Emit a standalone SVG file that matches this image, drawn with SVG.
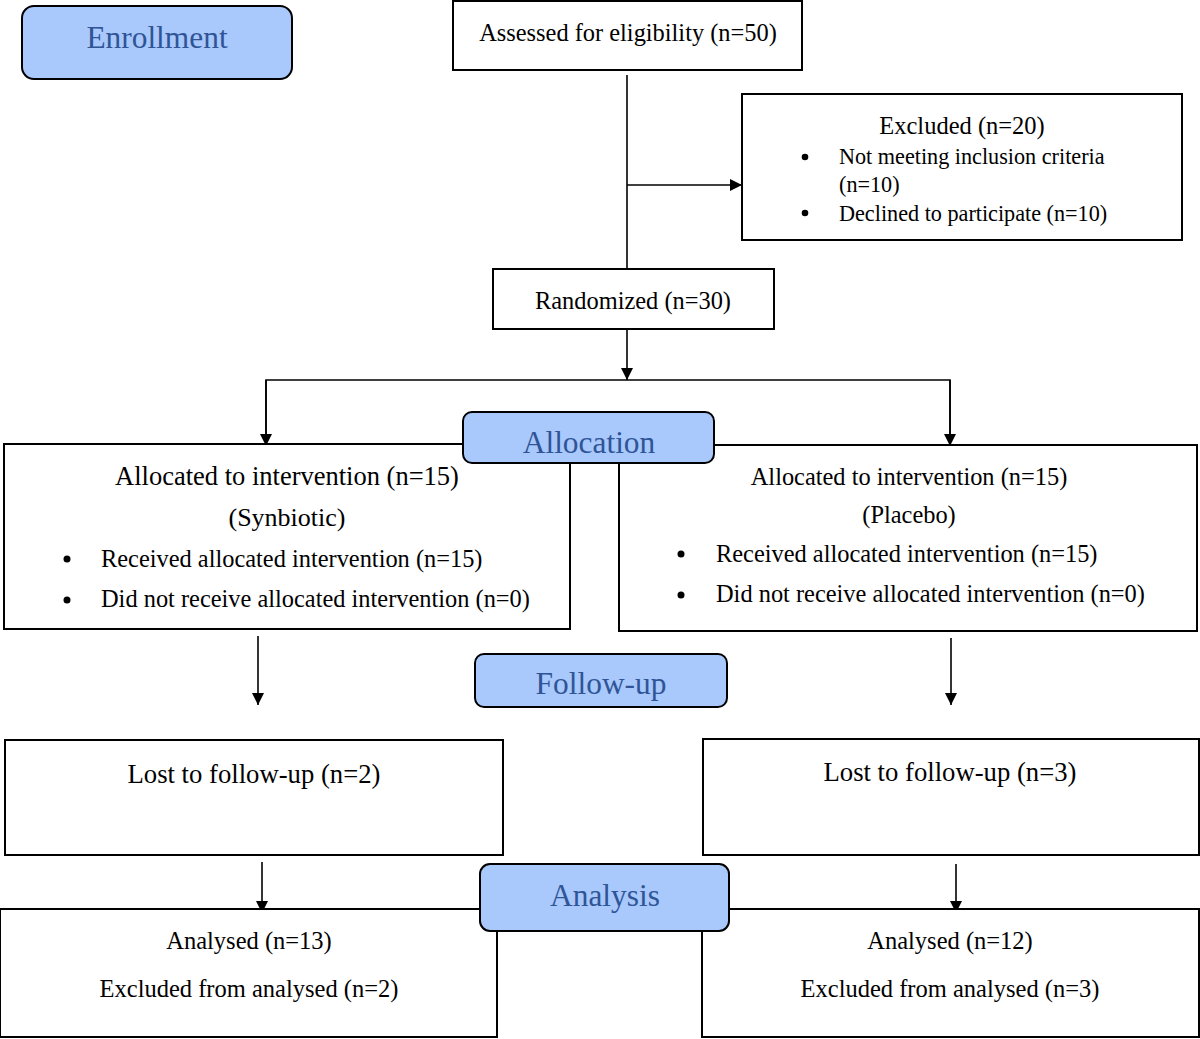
<svg xmlns="http://www.w3.org/2000/svg" width="1200" height="1039" viewBox="0 0 1200 1039">
<style>
.box{fill:#fff;stroke:#000;stroke-width:2}
.lbl{fill:#a9c8fb;stroke:#000;stroke-width:2}
.t{font-family:"Liberation Serif","Times New Roman",serif;fill:#000}
.c{text-anchor:middle}
.lt{font-family:"Liberation Serif","Times New Roman",serif;fill:#2f5597;font-size:31.4px;text-anchor:middle}
.ln{fill:none;stroke:#000;stroke-width:1.6}
</style>
<defs>
<marker id="ah" markerUnits="userSpaceOnUse" markerWidth="14" markerHeight="14" refX="12" refY="6" orient="auto">
<path d="M0,0 L12,6 L0,12 Z" fill="#000"/>
</marker>
</defs>
<rect width="1200" height="1039" fill="#fff"/>
<g id="connectors">
<line class="ln" x1="627" y1="75" x2="627" y2="268"/>
<line class="ln" x1="627" y1="185" x2="742" y2="185" marker-end="url(#ah)"/>
<line class="ln" x1="627" y1="329" x2="627" y2="380" marker-end="url(#ah)"/>
<polyline class="ln" points="266,445 266,380 950,380 950,445"/>
<line class="ln" x1="266" y1="380" x2="266" y2="446" marker-end="url(#ah)"/>
<line class="ln" x1="950" y1="380" x2="950" y2="446" marker-end="url(#ah)"/>
<line class="ln" x1="258" y1="636" x2="258" y2="705" marker-end="url(#ah)"/>
<line class="ln" x1="951" y1="638" x2="951" y2="705" marker-end="url(#ah)"/>
<line class="ln" x1="262" y1="862" x2="262" y2="913" marker-end="url(#ah)"/>
<line class="ln" x1="956" y1="864" x2="956" y2="913" marker-end="url(#ah)"/>
</g>
<g id="assessed">
<rect class="box" x="453" y="1" width="349" height="69"/>
<text class="t c" x="628" y="41" font-size="24.4">Assessed for eligibility (n=50)</text>
</g>
<g id="excluded">
<rect class="box" x="742" y="94" width="440" height="146"/>
<text class="t c" x="962" y="134" font-size="24.5">Excluded (n=20)</text>
<circle cx="805" cy="157" r="3.3"/>
<text class="t" x="839" y="164" font-size="22.2">Not meeting inclusion criteria</text>
<text class="t" x="839" y="192" font-size="22.2">(n=10)</text>
<circle cx="805" cy="213" r="3.3"/>
<text class="t" x="839" y="221" font-size="22.2">Declined to participate (n=10)</text>
</g>
<g id="randomized">
<rect class="box" x="493" y="269" width="281" height="60"/>
<text class="t c" x="633" y="309" font-size="24.4">Randomized (n=30)</text>
</g>
<g id="alloc-left">
<rect class="box" x="4" y="444" width="566" height="185"/>
<text class="t c" x="287" y="485" font-size="26.5">Allocated to intervention (n=15)</text>
<text class="t c" x="287" y="526" font-size="26">(Synbiotic)</text>
<circle cx="67" cy="559" r="3.5"/>
<text class="t" x="101" y="567" font-size="24.4">Received allocated intervention (n=15)</text>
<circle cx="67" cy="600" r="3.5"/>
<text class="t" x="101" y="607" font-size="24.4">Did not receive allocated intervention (n=0)</text>
</g>
<g id="alloc-right">
<rect class="box" x="619" y="445" width="578" height="186"/>
<text class="t c" x="909" y="485" font-size="24.4">Allocated to intervention (n=15)</text>
<text class="t c" x="909" y="523" font-size="24.4">(Placebo)</text>
<circle cx="681" cy="554" r="3.5"/>
<text class="t" x="716" y="562" font-size="24.4">Received allocated intervention (n=15)</text>
<circle cx="681" cy="595" r="3.5"/>
<text class="t" x="716" y="602" font-size="24.4">Did not receive allocated intervention (n=0)</text>
</g>
<g id="lost-left">
<rect class="box" x="5" y="740" width="498" height="115"/>
<text class="t c" x="254" y="783" font-size="26.7">Lost to follow-up (n=2)</text>
</g>
<g id="lost-right">
<rect class="box" x="703" y="739" width="496" height="116"/>
<text class="t c" x="950" y="781" font-size="26.7">Lost to follow-up (n=3)</text>
</g>
<g id="analysed-left">
<rect class="box" x="0" y="909" width="497" height="128"/>
<text class="t c" x="249" y="949" font-size="24.5">Analysed (n=13)</text>
<text class="t c" x="249" y="997" font-size="24.5">Excluded from analysed (n=2)</text>
</g>
<g id="analysed-right">
<rect class="box" x="702" y="909" width="497" height="128"/>
<text class="t c" x="950" y="949" font-size="24.5">Analysed (n=12)</text>
<text class="t c" x="950" y="997" font-size="24.5">Excluded from analysed (n=3)</text>
</g>
<g id="enrollment">
<rect class="lbl" x="22" y="6" width="270" height="73" rx="12"/>
<text class="lt" x="157" y="48">Enrollment</text>
</g>
<g id="allocation">
<rect class="lbl" x="463" y="412" width="251" height="51" rx="9"/>
<text class="lt" x="589" y="453">Allocation</text>
</g>
<g id="follow-up">
<rect class="lbl" x="475" y="654" width="252" height="53" rx="9"/>
<text class="lt" x="601" y="694">Follow-up</text>
</g>
<g id="analysis">
<rect class="lbl" x="480" y="864" width="249" height="67" rx="10"/>
<text class="lt" x="605" y="906">Analysis</text>
</g>
</svg>
